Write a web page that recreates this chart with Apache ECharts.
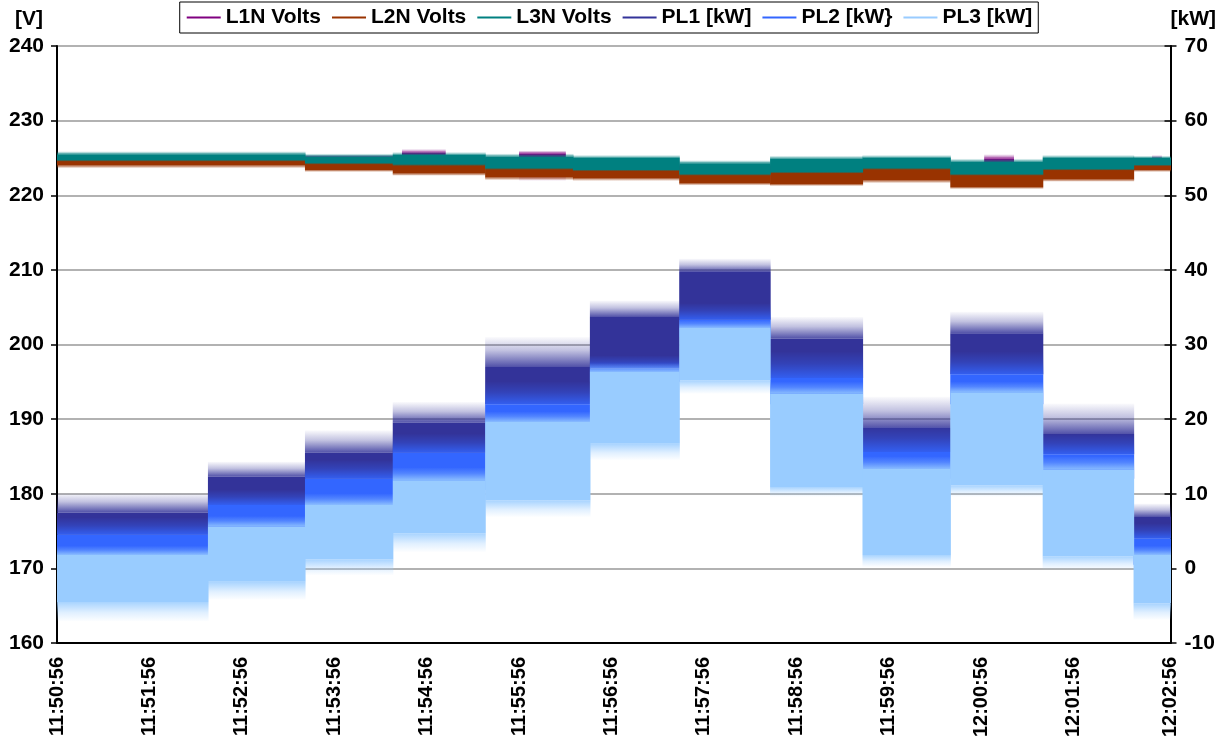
<!DOCTYPE html>
<html>
<head>
<meta charset="utf-8">
<script src="https://cdn.jsdelivr.net/npm/echarts@6/dist/echarts.min.js"></script>
<style>
  html, body { margin: 0; padding: 0; background: #fff; }
  #chart { width: 1219px; height: 745px; }
</style>
</head>
<body>
<div id="chart"></div>
<script>
// ---------- DATA ----------
// x in seconds after 11:50:56
const xTickLabels = ['11:50:56','11:51:56','11:52:56','11:53:56','11:54:56','11:55:56','11:56:56',
                     '11:57:56','11:58:56','11:59:56','12:00:56','12:01:56','12:02:56'];
const timeEnd = 723;

// Load steps (kW, right axis): segment start times
const segStart = [0, 98, 161, 218, 278, 346, 404, 463, 523, 580, 640, 699];
// per segment: dense band low/high and spike extremes
const pl1Lo  = [4.5, 8.5, 12.0, 15.5, 22.0, 26.8, 33.3, 25.5, 15.6, 26.0, 15.3, 4.0];
const pl1Hi  = [7.5, 12.3, 15.5, 19.5, 27.0, 33.7, 39.7, 30.8, 18.8, 31.5, 18.0, 6.9];
const pl1Max = [10.1, 14.3, 18.5, 22.3, 31.0, 35.9, 41.5, 33.7, 23.0, 34.4, 22.1, 8.7];
const pl2Lo  = [0.5, 4.0, 7.0, 10.5, 18.0, 25.0, 31.0, 22.0, 12.0, 22.0, 12.0, 0.5];
const pl2Hi  = [4.5, 8.5, 12.0, 15.5, 22.0, 26.8, 33.3, 25.5, 15.6, 26.0, 15.3, 4.0];
const pl2Max = [6.8, 10.5, 14.5, 18.0, 25.0, 28.5, 35.5, 29.0, 19.0, 29.0, 18.0, 6.0];
const pl3Min = [-7.1, -4.2, -0.9, 2.2, 6.9, 14.5, 23.4, 9.6, 0.2, 9.6, -0.2, -6.9];
const pl3Lo  = [-4.5, -1.8, 1.2, 4.7, 9.1, 16.7, 25.2, 10.9, 1.8, 11.1, 1.6, -4.7];
const pl3Hi  = [1.8, 5.6, 8.5, 11.8, 19.6, 26.3, 32.2, 23.4, 13.3, 23.6, 13.2, 1.8];
const pl3Max = [3.0, 7.0, 10.0, 13.5, 21.0, 27.5, 33.3, 25.0, 15.0, 25.0, 15.0, 3.0];

// Voltages (V, left axis)
const vStart = [0, 161, 218, 278, 335, 404, 463, 523, 580, 640, 699];
const l3Min = [224.5, 224.1, 223.9, 223.4, 223.2, 222.6, 222.9, 223.4, 222.6, 223.3, 223.9];
const l3Lo  = [224.7, 224.3, 224.1, 223.6, 223.4, 222.8, 223.1, 223.6, 222.8, 223.5, 224.05];
const l3Hi  = [225.5, 225.2, 225.4, 225.2, 225.0, 224.3, 224.9, 225.0, 224.5, 225.0, 225.0];
const l3Max = [225.9, 225.6, 225.8, 225.6, 225.4, 224.7, 225.3, 225.4, 224.9, 225.4, 225.3];
const l2Min = [223.6, 223.1, 222.6, 222.0, 221.9, 221.3, 221.2, 221.6, 220.8, 221.8, 223.1];
const l2Lo  = [224.0, 223.4, 222.9, 222.4, 222.3, 221.6, 221.5, 222.0, 221.1, 222.1, 223.4];
const l2Hi  = [224.8, 224.4, 224.2, 223.7, 223.5, 222.9, 223.2, 223.7, 222.9, 223.6, 224.1];
const l2Max = [225.0, 224.6, 224.4, 223.9, 223.7, 223.1, 223.4, 223.9, 223.1, 223.8, 224.3];
const l1Start = [0, 224, 252, 300, 330, 602, 621, 711, 717];
const l1Min = [224.3, 223.8, 223.6, 221.9, 223.0, 223.2, 223.3, 223.6, 223.6];
const l1Lo  = [224.5, 224.2, 224.0, 223.6, 223.3, 223.6, 223.6, 223.8, 223.8];
const l1Hi  = [225.2, 225.7, 225.0, 225.6, 224.0, 224.9, 224.3, 224.9, 224.5];
const l1Max = [225.4, 226.2, 225.2, 226.0, 224.2, 225.5, 224.5, 225.4, 224.7];

// ---------- BUILD ----------
function bands(starts, mins, los, his, maxs) {
  return starts.map((s, i) => [s, i + 1 < starts.length ? starts[i + 1] : timeEnd, mins[i], los[i], his[i], maxs[i]]);
}
function rgba(hex, a) {
  const n = parseInt(hex.slice(1), 16);
  return 'rgba(' + ((n >> 16) & 255) + ',' + ((n >> 8) & 255) + ',' + (n & 255) + ',' + a + ')';
}
function fade(color, towardTop) {
  const stops = [
    { offset: 0, color: rgba(color, 0.02) },
    { offset: 0.45, color: rgba(color, 0.3) },
    { offset: 1, color: rgba(color, 0.85) }
  ];
  if (!towardTop) stops.forEach(s => { s.offset = 1 - s.offset; });
  stops.sort((a, b) => a.offset - b.offset);
  return new echarts.graphic.LinearGradient(0, 0, 0, 1, stops);
}
function bandRenderer(color) {
  return function (params, api) {
    const x0 = api.value(0), x1 = api.value(1);
    const pMax = api.coord([x0, api.value(5)]);
    const pHi = api.coord([x0, api.value(4)]);
    const pLo = api.coord([x0, api.value(3)]);
    const pMin = api.coord([x0, api.value(2)]);
    const xr = api.coord([x1, api.value(3)])[0];
    const w = xr - pHi[0] + 0.6;
    const ch = [];
    if (pHi[1] - pMax[1] > 0.1) ch.push({
      type: 'rect', shape: { x: pHi[0], y: pMax[1], width: w, height: pHi[1] - pMax[1] },
      style: { fill: fade(color, true) }
    });
    ch.push({ type: 'rect', shape: { x: pHi[0], y: pHi[1], width: w, height: pLo[1] - pHi[1] },
      style: { fill: color } });
    if (pMin[1] - pLo[1] > 0.1) ch.push({
      type: 'rect', shape: { x: pHi[0], y: pLo[1], width: w, height: pMin[1] - pLo[1] },
      style: { fill: fade(color, false) }
    });
    return { type: 'group', children: ch };
  };
}
const C = { L1: '#800080', L2: '#993300', L3: '#008080', P1: '#333399', P2: '#3366FF', P3: '#99CCFF' };
function bandSeries(name, color, yAxisIndex, data) {
  return {
    name, type: 'custom', yAxisIndex, clip: true,
    itemStyle: { color },
    encode: { x: [0, 1], y: [2, 3, 4, 5] },
    renderItem: bandRenderer(color),
    data, animation: false
  };
}
const font = 'Liberation Sans, Arial, sans-serif';
const labelStyle = { fontFamily: font, fontWeight: 'bold', fontSize: 21, color: '#000' };
const xLabelStyle = { fontFamily: font, fontWeight: 'bold', fontSize: 20, color: '#000' };

const chart = echarts.init(document.getElementById('chart'), null, { renderer: 'canvas' });
chart.setOption({
  animation: false,
  backgroundColor: '#fff',
  legend: {
    top: 2, left: 'center',
    borderColor: '#000', borderWidth: 1,
    padding: [5, 6, 5, 7],
    itemGap: 11, itemWidth: 34, itemHeight: 2,
    textStyle: labelStyle,
    data: [
      { name: 'L1N Volts', icon: 'rect', itemStyle: { color: C.L1 } },
      { name: 'L2N Volts', icon: 'rect', itemStyle: { color: C.L2 } },
      { name: 'L3N Volts', icon: 'rect', itemStyle: { color: C.L3 } },
      { name: 'PL1 [kW]', icon: 'rect', itemStyle: { color: C.P1 } },
      { name: 'PL2 [kW}', icon: 'rect', itemStyle: { color: C.P2 } },
      { name: 'PL3 [kW]', icon: 'rect', itemStyle: { color: C.P3 } }
    ]
  },
  grid: { left: 57, right: 47, top: 46, bottom: 102, containLabel: false },
  xAxis: {
    type: 'value', min: 0, max: timeEnd, interval: 60,
    axisLine: { show: true, onZero: false, lineStyle: { color: '#000', width: 2 } },
    axisTick: { show: false },
    splitLine: { show: false },
    axisLabel: Object.assign({}, xLabelStyle, {
      rotate: 90, margin: 14, showMaxLabel: true,
      formatter: v => xTickLabels[Math.round(v / 60)] || ''
    })
  },
  yAxis: [
    {
      type: 'value', min: 160, max: 240, interval: 10, position: 'left',
      name: '[V]', nameLocation: 'end', nameGap: 16,
      nameTextStyle: Object.assign({}, labelStyle, { align: 'right', padding: [0, 14, 0, 0] }),
      axisLine: { show: true, onZero: false, lineStyle: { color: '#000', width: 2 } },
      axisTick: { show: true, length: 6, lineStyle: { color: '#000', width: 1.5 } },
      splitLine: { show: true, lineStyle: { color: '#999', width: 1.5 } },
      axisLabel: Object.assign({}, labelStyle, { margin: 13 })
    },
    {
      type: 'value', min: -10, max: 70, interval: 10, position: 'right',
      name: '[kW]', nameLocation: 'end', nameGap: 16,
      nameTextStyle: Object.assign({}, labelStyle, { align: 'left', padding: [0, 0, 0, 0] }),
      axisLine: { show: true, onZero: false, lineStyle: { color: '#000', width: 2 } },
      axisTick: { show: true, length: 6, lineStyle: { color: '#000', width: 1.5 } },
      splitLine: { show: false },
      axisLabel: Object.assign({}, labelStyle, { margin: 14 })
    },
    {
      // inner half of the crossing ticks on the right axis
      type: 'value', min: -10, max: 70, interval: 10, position: 'right',
      axisLine: { show: false, onZero: false },
      axisTick: { show: true, inside: true, length: 6, lineStyle: { color: '#000', width: 1.5 } },
      splitLine: { show: false },
      axisLabel: { show: false }
    }
  ],
  series: [
    bandSeries('L1N Volts', C.L1, 0, bands(l1Start, l1Min, l1Lo, l1Hi, l1Max)),
    bandSeries('L2N Volts', C.L2, 0, bands(vStart, l2Min, l2Lo, l2Hi, l2Max)),
    bandSeries('L3N Volts', C.L3, 0, bands(vStart, l3Min, l3Lo, l3Hi, l3Max)),
    bandSeries('PL1 [kW]', C.P1, 1, bands(segStart, pl1Lo, pl1Lo, pl1Hi, pl1Max)),
    bandSeries('PL2 [kW}', C.P2, 1, bands(segStart, pl2Lo, pl2Lo, pl2Hi, pl2Max)),
    bandSeries('PL3 [kW]', C.P3, 1, bands(segStart, pl3Min, pl3Lo, pl3Hi, pl3Max))
  ]
});
</script>
</body>
</html>
